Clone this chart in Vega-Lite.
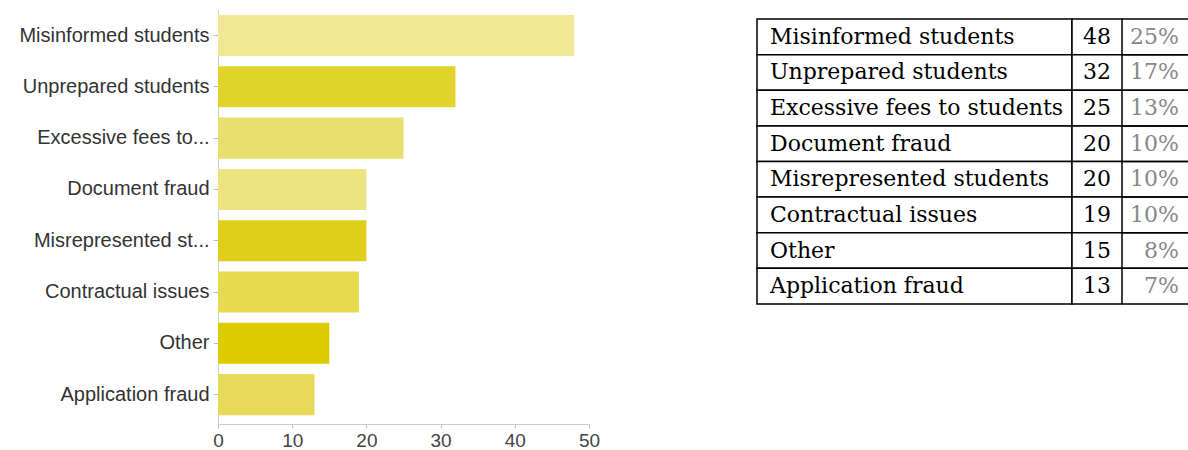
{
  "$schema": "https://vega.github.io/schema/vega-lite/v6.json",
  "padding": {"left": 18, "top": 10, "right": 0, "bottom": 0},
  "background": "white",
  "config": {"view": {"stroke": null}, "font": "Liberation Sans"},
  "datasets": {
    "t": [
      {"name": "Misinformed students", "short": "Misinformed students", "count": 48, "pct": 0.25},
      {"name": "Unprepared students", "short": "Unprepared students", "count": 32, "pct": 0.17},
      {"name": "Excessive fees to students", "short": "Excessive fees to...", "count": 25, "pct": 0.13},
      {"name": "Document fraud", "short": "Document fraud", "count": 20, "pct": 0.10},
      {"name": "Misrepresented students", "short": "Misrepresented st...", "count": 20, "pct": 0.10},
      {"name": "Contractual issues", "short": "Contractual issues", "count": 19, "pct": 0.10},
      {"name": "Other", "short": "Other", "count": 15, "pct": 0.08},
      {"name": "Application fraud", "short": "Application fraud", "count": 13, "pct": 0.07}
    ]
  },
  "bounds": "flush",
  "spacing": 168,
  "hconcat": [
    {
      "data": {"name": "t"},
      "width": 371,
      "height": 414,
      "mark": {"type": "bar"},
      "encoding": {
        "y": {
          "field": "short", "type": "nominal", "sort": null,
          "scale": {"paddingInner": 0.2, "paddingOuter": 0.135, "align": 0.36},
          "axis": {"title": null, "labelFontSize": 20, "labelColor": "#333", "labelPadding": 4, "tickSize": 5, "tickColor": "#bbb", "domainColor": "#ccc", "labelLimit": 400}
        },
        "x": {
          "field": "count", "type": "quantitative",
          "scale": {"domain": [0, 50]},
          "axis": {"title": null, "values": [0, 10, 20, 30, 40, 50], "grid": false, "labelFlush": false, "labelFontSize": 19, "labelColor": "#444", "labelPadding": 3, "tickSize": 4, "tickColor": "#bbb", "domainColor": "#ccc"}
        },
        "color": {
          "field": "short", "type": "nominal", "sort": null, "legend": null,
          "scale": {
            "domain": ["Misinformed students", "Unprepared students", "Excessive fees to...", "Document fraud", "Misrepresented st...", "Contractual issues", "Other", "Application fraud"],
            "range": ["#f0e894", "#e1d42a", "#e9df6e", "#ede481", "#dfcf1c", "#e6da4f", "#ddcb00", "#e7da58"]
          }
        }
      }
    },
    {
      "bounds": "flush",
      "spacing": 0,
      "hconcat": [
        {
          "data": {"name": "t"},
          "width": 315,
          "height": 303,
          "encoding": {"y": {"field": "name", "type": "nominal", "sort": null, "scale": {"paddingInner": 0, "paddingOuter": 0.253}, "axis": null}},
          "layer": [
            {"mark": {"type": "rect", "fill": "white", "stroke": "black", "strokeWidth": 1.5}},
            {
              "mark": {"type": "text", "align": "left", "dx": 13, "font": "DejaVu Serif", "fontSize": 22, "color": "black"},
              "encoding": {"x": {"datum": 0, "type": "quantitative", "scale": {"domain": [0, 1]}, "axis": null}, "text": {"field": "name"}}
            }
          ]
        },
        {
          "data": {"name": "t"},
          "width": 50,
          "height": 303,
          "encoding": {"y": {"field": "name", "type": "nominal", "sort": null, "scale": {"paddingInner": 0, "paddingOuter": 0.253}, "axis": null}},
          "layer": [
            {"mark": {"type": "rect", "fill": "white", "stroke": "black", "strokeWidth": 1.5}},
            {
              "mark": {"type": "text", "align": "right", "dx": -11, "font": "DejaVu Serif", "fontSize": 22, "color": "black"},
              "encoding": {"x": {"datum": 1, "type": "quantitative", "scale": {"domain": [0, 1]}, "axis": null}, "text": {"field": "count"}}
            }
          ]
        },
        {
          "data": {"name": "t"},
          "width": 67,
          "height": 303,
          "encoding": {"y": {"field": "name", "type": "nominal", "sort": null, "scale": {"paddingInner": 0, "paddingOuter": 0.253}, "axis": null}},
          "layer": [
            {"mark": {"type": "rule", "color": "black", "strokeWidth": 1.5}, "encoding": {"y": {"field": "name", "type": "nominal", "sort": null, "bandPosition": 0}}},
            {"mark": {"type": "rule", "color": "black", "strokeWidth": 1.5}, "encoding": {"y": {"field": "name", "type": "nominal", "sort": null, "bandPosition": 1}}},
            {
              "mark": {"type": "text", "align": "right", "dx": -10, "font": "DejaVu Serif", "fontSize": 22, "color": "#888"},
              "encoding": {"x": {"datum": 1, "type": "quantitative", "scale": {"domain": [0, 1]}, "axis": null}, "text": {"field": "pct", "format": ".0%"}}
            }
          ]
        }
      ]
    }
  ]
}
